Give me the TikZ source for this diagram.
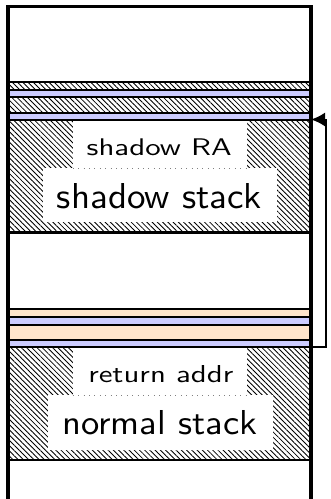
\documentclass[tikz,border=0pt]{standalone}
\usepackage{graphicx}
\usetikzlibrary{patterns.meta,arrows.meta}
\definecolor{raband}{RGB}{204,204,255}
\definecolor{frameband}{RGB}{255,229,204}
\begin{document}
\begin{tikzpicture}[x=1pt,y=-1pt,
  hatch/.style={pattern={Lines[angle=-45,distance=3.7pt,line width=0.85pt]}},
  sep/.style={line width=2pt},
  wall/.style={line width=3.2pt},
  labelbox/.style={fill=white,draw=none,inner sep=0pt},
  labeltext/.style={anchor=base,inner sep=0pt},
  divider/.style={gray,line width=0.9pt,dash pattern=on 0.9pt off 4.5pt},
  link/.style={line width=2pt,arrows={-Latex[length=14pt,width=14pt]}}]
\useasboundingbox (0,0) rectangle (330,499);

% memory bands, top to bottom
\fill[white] (8,6.3) rectangle (311,499);
\path[hatch] (8,81.5) rectangle (311,90);
\fill[raband] (8,90) rectangle (311,96.7);
\path[hatch] (8,96.7) rectangle (311,113);
\fill[raband] (8,113) rectangle (311,120);
\path[hatch] (8,120) rectangle (311,232.3);
\fill[frameband] (8,309) rectangle (311,316.7);
\fill[raband] (8,316.7) rectangle (311,324.5);
\fill[frameband] (8,324.5) rectangle (311,340);
\fill[raband] (8,340) rectangle (311,347.3);
\path[hatch] (8,347.3) rectangle (311,460);

% band separators
\foreach \y in {81.5,90,96.7,113,120,309,316.7,324.5,340,347.3}
  \draw[sep] (8,\y) -- (311,\y);
\draw[sep,line width=2.4pt] (8,232.3) -- (311,232.3);
\draw[sep,line width=2.4pt] (8,460) -- (311,460);

% label boxes
\node[labelbox,minimum width=174pt,minimum height=47pt] (srabox) at (160,144.6) {};
\node[labelbox,minimum width=234pt,minimum height=54pt] (ssbox) at (160,195.1) {};
\node[labelbox,minimum width=174pt,minimum height=47pt] (rabox) at (160,371.9) {};
\node[labelbox,minimum width=225pt,minimum height=55pt] (nsbox) at (160.5,422.8) {};
\draw[divider] (srabox.south west) -- (srabox.south east);
\draw[divider] (rabox.south west) -- (rabox.south east);

% labels
\node[labeltext] (sra) at (159.2,155.6) {\resizebox{145pt}{16.7pt}{\sffamily shadow RA}};
\node[labeltext] (ss) at (159.5,208) {\resizebox{205pt}{25pt}{\sffamily shadow stack}};
\node[labeltext] (ra) at (160.8,382.3) {\resizebox{145pt}{17pt}{\sffamily return addr}};
\node[labeltext] (ns) at (159.8,434.5) {\resizebox{195pt}{24pt}{\sffamily normal stack}};

% outer frame, open at the bottom
\draw[wall] (8,499) -- (8,6.3) -- (311,6.3) -- (311,499);

% return address copied to the shadow stack
\coordinate (raslot) at (311,347.3);
\coordinate (shadowslot) at (311,119.5);
\coordinate (bend) at (326,347.3);
\draw[link] (raslot) -- (bend) |- (shadowslot);
\end{tikzpicture}
\end{document}
